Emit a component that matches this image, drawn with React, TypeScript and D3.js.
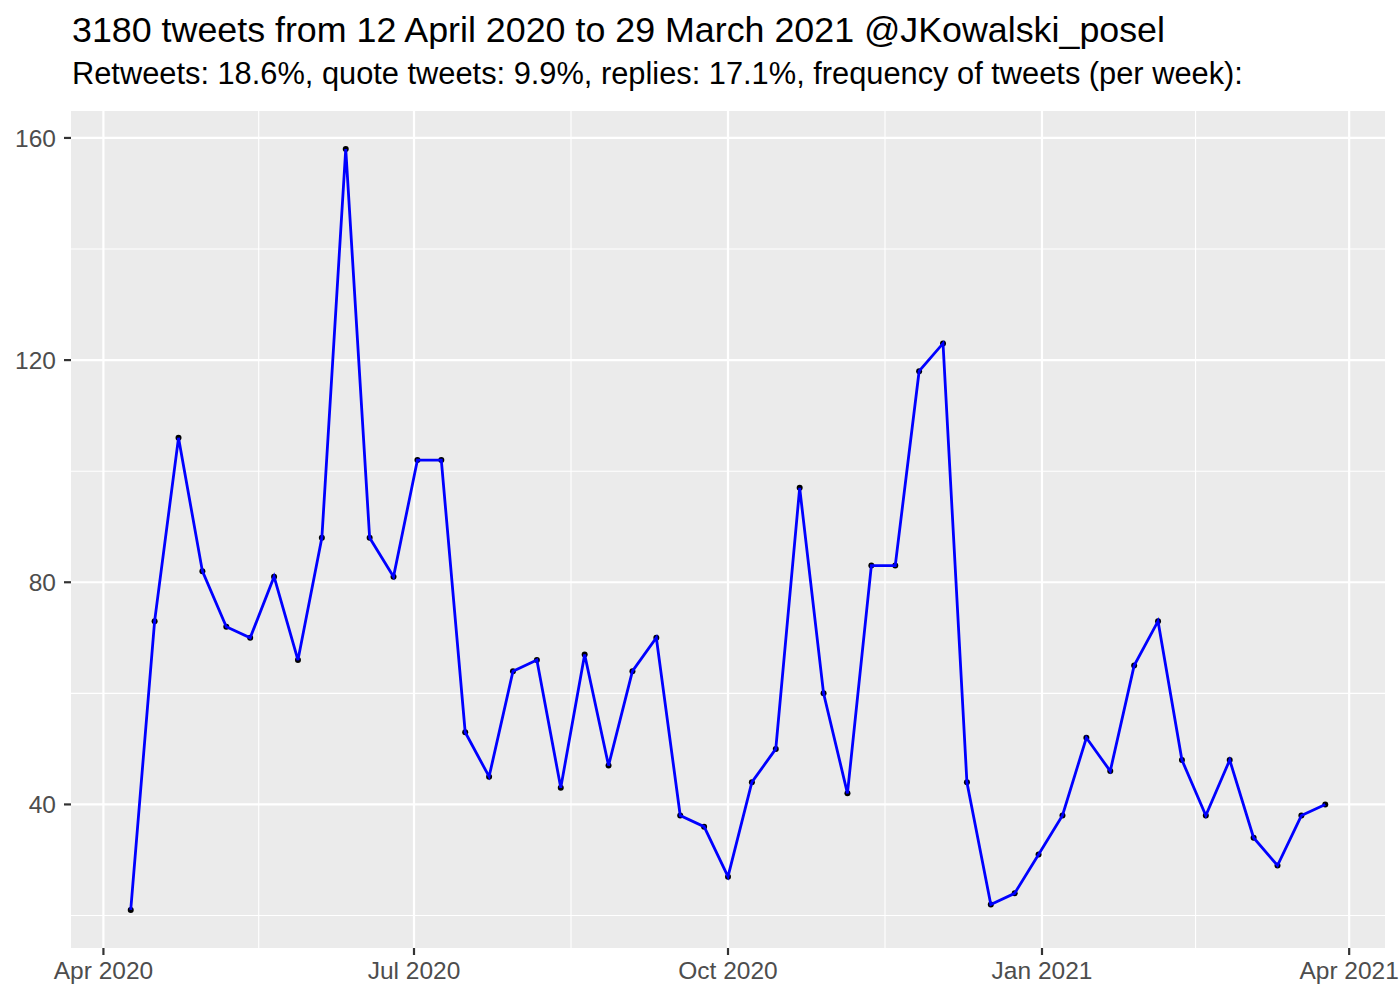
import React from "react";
import * as d3 from "d3";

const startDate = new Date(2020, 3, 9);
const weeklyCounts = [
  21, 73, 106, 82, 72, 70, 81, 66, 88, 158, 88, 81, 102, 102, 53, 45, 64, 66, 43, 67,
  47, 64, 70, 38, 36, 27, 44, 50, 97, 60, 42, 83, 83, 118, 123, 44, 22, 24, 31, 38,
  52, 46, 65, 73, 48, 38, 48, 34, 29, 38, 40,
];
const yTicks = [40, 80, 120, 160];
const yMinor = [20, 60, 100, 140];
const xTicks = [
  new Date(2020, 3, 1),
  new Date(2020, 6, 1),
  new Date(2020, 9, 1),
  new Date(2021, 0, 1),
  new Date(2021, 3, 1),
];
const xTickLabels = ["Apr 2020", "Jul 2020", "Oct 2020", "Jan 2021", "Apr 2021"];
const title = "3180 tweets from 12 April 2020 to 29 March 2021 @JKowalski_posel";
const subtitle =
  "Retweets: 18.6%, quote tweets: 9.9%, replies: 17.1%, frequency of tweets (per week):";

export default function App() {
  const W = 1400;
  const H = 1000;
  const left = 71;
  const right = 1385;
  const top = 111;
  const bottom = 948;

  const data = weeklyCounts.map((v, i) => ({
    date: d3.timeDay.offset(startDate, i * 7),
    value: v,
  }));

  const xExt = d3.extent(data, (d) => d.date.getTime()) as [number, number];
  const xPad = (xExt[1] - xExt[0]) * 0.05;
  const x = d3
    .scaleTime()
    .domain([new Date(xExt[0] - xPad), new Date(xExt[1] + xPad)])
    .range([left, right]);
  const yExt = d3.extent(data, (d) => d.value) as [number, number];
  const yPad = (yExt[1] - yExt[0]) * 0.05;
  const y = d3
    .scaleLinear()
    .domain([yExt[0] - yPad, yExt[1] + yPad])
    .range([bottom, top]);

  const xMinor = xTicks.slice(0, -1).map(
    (d, i) => new Date((d.getTime() + xTicks[i + 1].getTime()) / 2)
  );

  const line = d3
    .line<{ date: Date; value: number }>()
    .x((d) => x(d.date))
    .y((d) => y(d.value));

  const font = "'Liberation Sans', Arial, Helvetica, sans-serif";

  return (
    <svg
      width={W}
      height={H}
      style={{ position: "absolute", left: 0, top: 0, background: "#fff" }}
      fontFamily={font}
    >
      <rect x={0} y={0} width={W} height={H} fill="#fff" />
      <text x={72} y={42} fontSize={35.8} fill="#000">
        {title}
      </text>
      <text x={72} y={83.5} fontSize={30.8} fill="#000">
        {subtitle}
      </text>
      <rect x={left} y={top} width={right - left} height={bottom - top} fill="#EBEBEB" />
      {yMinor.map((v) => (
        <line key={"ym" + v} x1={left} x2={right} y1={y(v)} y2={y(v)} stroke="#fff" strokeWidth={1.1} />
      ))}
      {xMinor.map((d, i) => (
        <line key={"xm" + i} x1={x(d)} x2={x(d)} y1={top} y2={bottom} stroke="#fff" strokeWidth={1.1} />
      ))}
      {yTicks.map((v) => (
        <line key={"y" + v} x1={left} x2={right} y1={y(v)} y2={y(v)} stroke="#fff" strokeWidth={2.2} />
      ))}
      {xTicks.map((d, i) => (
        <line key={"x" + i} x1={x(d)} x2={x(d)} y1={top} y2={bottom} stroke="#fff" strokeWidth={2.2} />
      ))}
      {data.map((d, i) => (
        <circle key={i} cx={x(d.date)} cy={y(d.value)} r={3} fill="#000" />
      ))}
      <path d={line(data) || ""} fill="none" stroke="#0000FF" strokeWidth={2.8} />
      {yTicks.map((v) => (
        <g key={"yt" + v}>
          <line x1={left - 7} x2={left} y1={y(v)} y2={y(v)} stroke="#333" strokeWidth={2.2} />
          <text x={left - 15} y={y(v)} dy="0.36em" textAnchor="end" fontSize={24.5} fill="#4D4D4D">
            {v}
          </text>
        </g>
      ))}
      {xTicks.map((d, i) => (
        <g key={"xt" + i}>
          <line x1={x(d)} x2={x(d)} y1={bottom} y2={bottom + 7} stroke="#333" strokeWidth={2.2} />
          <text x={x(d)} y={979} textAnchor="middle" fontSize={24.5} fill="#4D4D4D">
            {xTickLabels[i]}
          </text>
        </g>
      ))}
    </svg>
  );
}
